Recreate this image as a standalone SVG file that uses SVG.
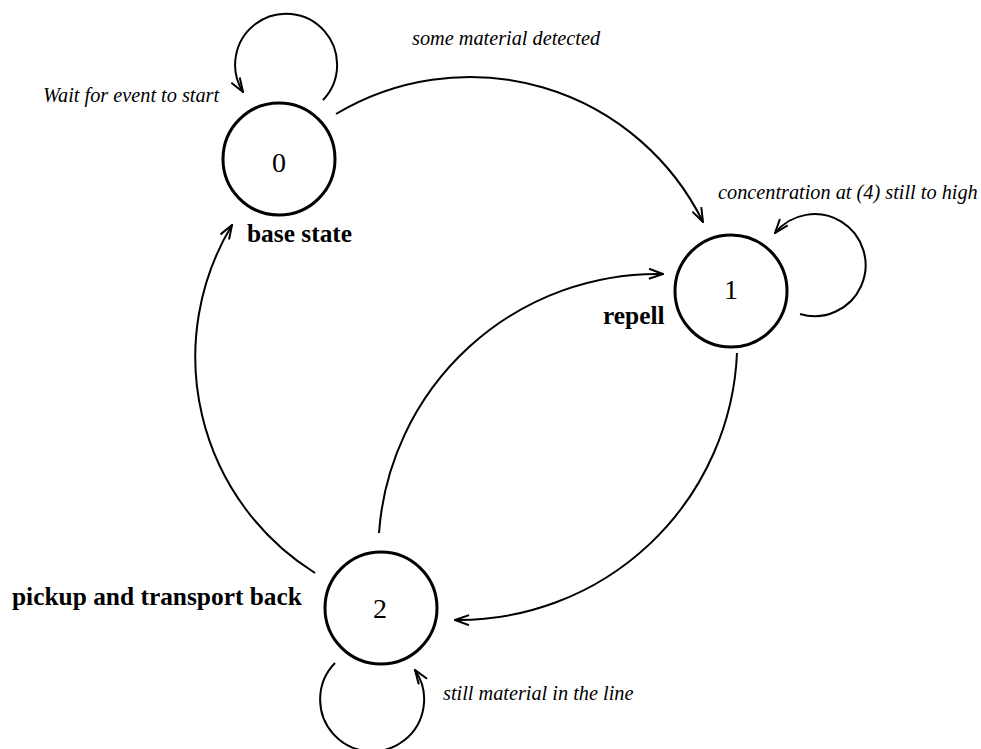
<svg xmlns="http://www.w3.org/2000/svg" width="981" height="749" viewBox="0 0 981 749">
<defs>
<marker id="arr" markerUnits="userSpaceOnUse" markerWidth="16" markerHeight="12" viewBox="0 0 16 12" refX="15" refY="6" orient="auto">
<path d="M1,1 L15,6 L1,11" fill="none" stroke="#000" stroke-width="2"/>
</marker>
<style>
.node{fill:none;stroke:#000;stroke-width:3}
.num{font-family:"Liberation Serif","Times New Roman",serif;font-size:28px;text-anchor:middle;fill:#000}
.name{font-family:"Liberation Serif","Times New Roman",serif;font-size:25.4px;font-weight:bold;fill:#000}
.lbl{font-family:"Liberation Serif","Times New Roman",serif;font-size:20.3px;font-style:italic;fill:#000}
.edge{fill:none;stroke:#000;stroke-width:2;marker-end:url(#arr)}
</style>
</defs>
<rect width="981" height="749" fill="#fff"/>
<g id="connectors">
<path class="edge" d="M323,100 A51,51 0 1,0 243,92"/>
<path class="edge" d="M336,114 A260,260 0 0,1 703,222"/>
<path class="edge" d="M800,314 A51,51 0 1,0 775,233"/>
<path class="edge" d="M379,533 A279,279 0 0,1 663,274"/>
<path class="edge" d="M737,353 A279,279 0 0,1 455,620"/>
<path class="edge" d="M315,573 A255,255 0 0,1 232,225"/>
<path class="edge" d="M335,663 A52,52 0 1,0 415,670"/>
<text class="lbl" x="43" y="102">Wait for event to start</text>
<text class="lbl" x="412" y="45">some material detected</text>
<text class="lbl" x="718" y="199">concentration at (4) still to high</text>
<text class="lbl" x="443" y="700">still material in the line</text>
</g>
<g id="node0">
<circle class="node" cx="279" cy="159" r="56"/>
<text class="num" x="279" y="172">0</text>
<text class="name" x="247" y="242">base state</text>
</g>
<g id="node1">
<circle class="node" cx="731" cy="291" r="56"/>
<text class="num" x="731" y="299">1</text>
<text class="name" x="603" y="324">repell</text>
</g>
<g id="node2">
<circle class="node" cx="381" cy="608" r="56"/>
<text class="num" x="380" y="618">2</text>
<text class="name" x="12" y="605">pickup and transport back</text>
</g>
</svg>
